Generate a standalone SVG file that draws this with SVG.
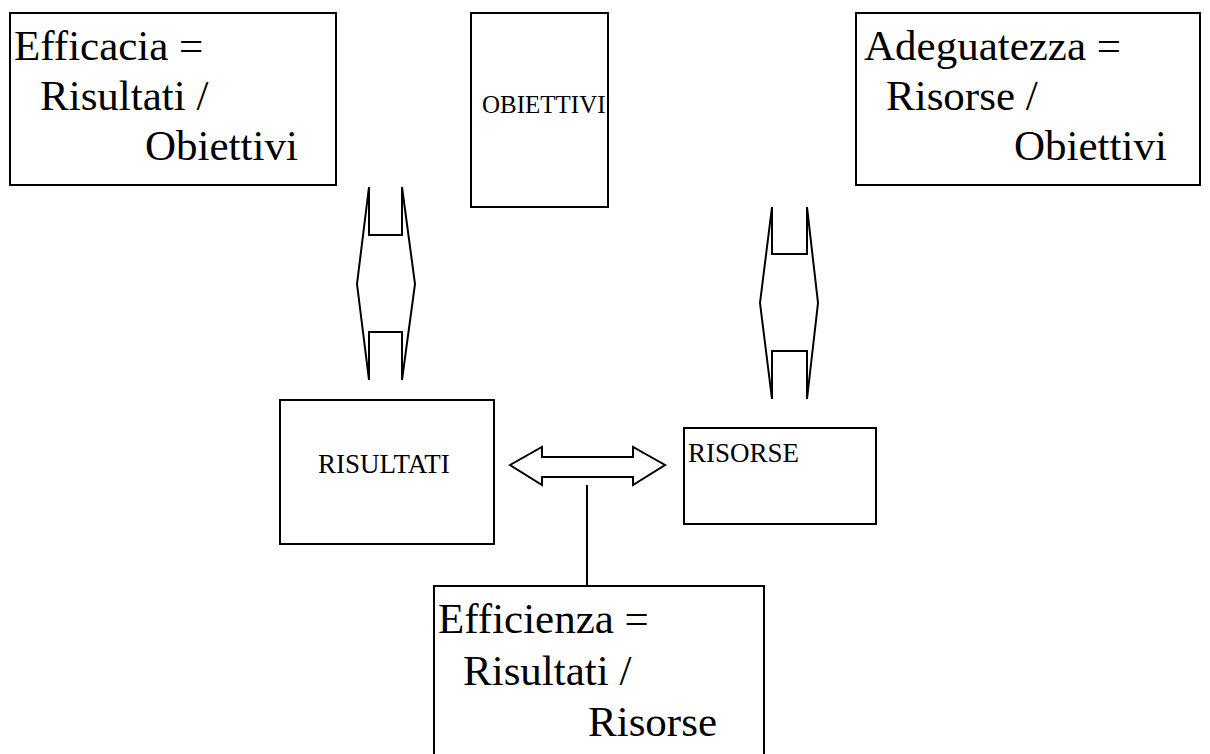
<svg xmlns="http://www.w3.org/2000/svg" width="1210" height="754" viewBox="0 0 1210 754">
<style>
.box{fill:#fff;stroke:#000;stroke-width:2}
text{font-family:"Liberation Serif","Times New Roman",Times,serif;fill:#000}
.lg{font-size:43px}
.md{font-size:25px}
.sm{font-size:27px}
.conn{fill:none;stroke:#000;stroke-width:2;stroke-linejoin:miter}
</style>
<rect width="1210" height="754" fill="#fff"/>
<g id="efficacia">
<rect class="box" x="10" y="13" width="326" height="172"/>
<text class="lg" x="14" y="60">Efficacia =</text>
<text class="lg" x="40" y="110">Risultati /</text>
<text class="lg" x="145" y="160">Obiettivi</text>
</g>
<g id="obiettivi">
<rect class="box" x="471" y="13" width="137" height="194"/>
<text class="md" x="482" y="113">OBIETTIVI</text>
</g>
<g id="adeguatezza">
<rect class="box" x="856" y="13" width="344" height="172"/>
<text class="lg" x="864" y="60">Adeguatezza =</text>
<text class="lg" x="886" y="110">Risorse /</text>
<text class="lg" x="1014" y="160">Obiettivi</text>
</g>
<g id="risultati">
<rect class="box" x="280" y="400" width="214" height="144"/>
<text class="sm" x="318" y="473">RISULTATI</text>
</g>
<g id="risorse">
<rect class="box" x="684" y="428" width="192" height="96"/>
<text class="sm" x="688" y="462">RISORSE</text>
</g>
<g id="efficienza">
<rect class="box" x="434" y="586" width="330" height="172"/>
<text class="lg" x="438" y="633">Efficienza =</text>
<text class="lg" x="463" y="685">Risultati /</text>
<text class="lg" x="588" y="736">Risorse</text>
</g>
<g id="connectors">
<path class="conn" d="M369,187 L357,284 L369,380 M369,187 L369,235 L402,235 L402,187 L415,284 L402,380 M369,380 L369,332 L402,332 L402,380"/>
<path class="conn" d="M772,207 L760,303 L772,399 M772,207 L772,254 L807,254 L807,207 L818,303 L807,399 M772,399 L772,351 L807,351 L807,399"/>
<path class="conn" d="M510,465 L542,447 L542,457 L633,457 L633,447 L665,465 L633,485 L633,477 L542,477 L542,485 Z"/>
<line class="conn" x1="587" y1="485" x2="587" y2="586"/>
</g>
</svg>
